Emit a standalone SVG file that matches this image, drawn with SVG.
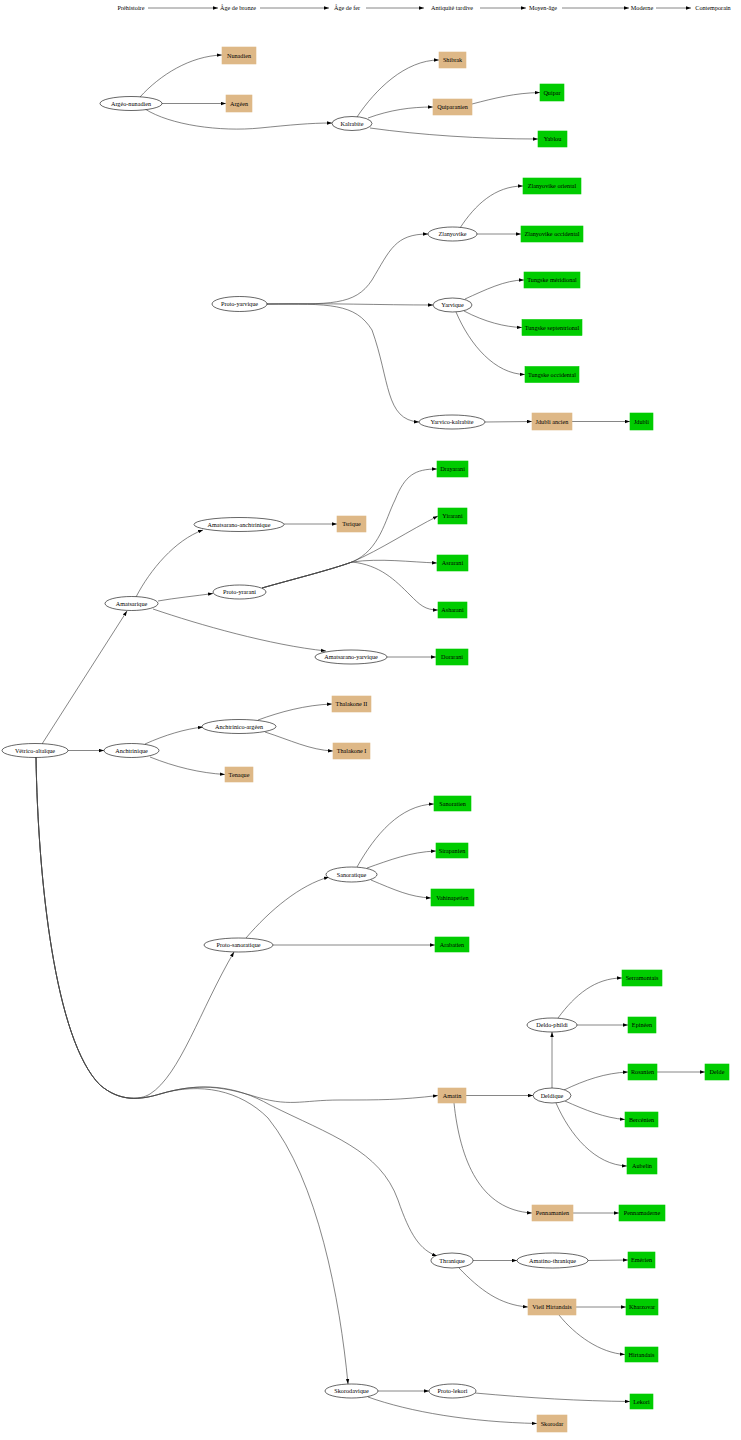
<svg xmlns="http://www.w3.org/2000/svg" width="741" height="1440" viewBox="0 0 741 1440">
<style>
text{font-family:"Liberation Serif","DejaVu Serif",serif;font-size:6.2px;text-anchor:middle;fill:#000}
.el{fill:#fff;stroke:#000;stroke-width:0.6}
.tan{fill:#deb887;stroke:#deb887;stroke-width:0.6}
.grn{fill:#00cc00;stroke:#00cc00;stroke-width:0.6}
#edges path{fill:none;stroke:#444;stroke-width:0.65;marker-end:url(#arr)}
</style>
<defs>
<marker id="arr" markerUnits="userSpaceOnUse" markerWidth="6" markerHeight="4" refX="5" refY="2" orient="auto">
<path d="M0,0.3 L5,2 L0,3.7 z" fill="#000"/>
</marker>
</defs>
<rect width="741" height="1440" fill="#fff"/>
<g id="edges">
<path d="M148,8 L218,8"/>
<path d="M260,8 L329,8"/>
<path d="M366,8 L424,8"/>
<path d="M480,8 L526,8"/>
<path d="M562,8 L629,8"/>
<path d="M656,8 L691,8"/>
<path d="M140,97 C160,75 190,56 222,55"/>
<path d="M162,103.5 L226,103.5"/>
<path d="M145,109 C170,125 220,132 260,128 C290,125 310,123 332,123"/>
<path d="M357,117 C375,90 405,60 439,60"/>
<path d="M368,118 C390,110 410,107 433,107"/>
<path d="M370,128 C420,135 480,139 538,139"/>
<path d="M472,104 C495,98 515,93 540,92.5"/>
<path d="M267,304 C330,304 355,306 372,280 C390,250 395,234 428,234"/>
<path d="M267,304 C330,303 380,305 433,305"/>
<path d="M267,304 C330,304 355,303 372,330 C390,380 385,420 419,422"/>
<path d="M460,228 C475,205 495,186 523,186"/>
<path d="M477,234 L521,234"/>
<path d="M465,299 C485,290 505,280 524,280"/>
<path d="M464,311 C485,322 505,327 522,327.5"/>
<path d="M456,312 C470,345 495,374 525,374.5"/>
<path d="M485,422 L532,421.5"/>
<path d="M572,421.5 L630,421.5"/>
<path d="M136,597 C150,570 175,540 203,530"/>
<path d="M158,601 C175,598 195,596 213,593.5"/>
<path d="M153,609 C200,625 270,645 326,651"/>
<path d="M284,524 L337,524"/>
<path d="M387,657 L436,657"/>
<path d="M262,588 C290,580 330,570 352,562 C380,550 385,520 395,500 C405,475 415,469 437,469"/>
<path d="M262,588 C290,580 330,570 352,562 C380,550 410,530 438,516"/>
<path d="M262,588 C290,580 330,570 352,562 C380,558 410,562 437,563"/>
<path d="M262,588 C290,580 330,570 352,562 C380,565 395,580 410,595 C420,605 425,610 438,610"/>
<path d="M42,744 L127,611"/>
<path d="M68,750.5 L104,750.5"/>
<path d="M145,744 C165,735 185,729 203,727"/>
<path d="M150,757 C175,767 200,773 225,774.5"/>
<path d="M258,720 C280,712 305,705 332,704"/>
<path d="M265,732 C290,740 310,750 333,751"/>
<path d="M36,757 C38,880 55,1040 100,1085 C120,1102 140,1100 150,1094 C180,1075 200,1010 234,952"/>
<path d="M36,757 C38,880 55,1040 100,1085 C120,1102 140,1100 160,1094 C200,1082 225,1088 250,1095 C290,1108 300,1100 340,1100 C380,1100 400,1100 438,1095.5"/>
<path d="M36,757 C38,880 55,1040 100,1085 C120,1102 140,1100 160,1094 C200,1082 235,1085 270,1105 C330,1135 380,1150 398,1200 C410,1235 420,1250 437,1256"/>
<path d="M36,757 C38,880 55,1040 100,1085 C120,1102 140,1100 160,1094 C200,1082 240,1090 268,1118 C318,1180 340,1300 348,1384"/>
<path d="M246,938 C270,910 300,885 329,877"/>
<path d="M273,945 L435,945"/>
<path d="M357,867 C375,835 400,805 434,804"/>
<path d="M367,868 C390,860 410,852 436,851"/>
<path d="M371,880 C395,890 410,897 431,898"/>
<path d="M466,1095.5 L533,1095.5"/>
<path d="M552,1088 L552,1032"/>
<path d="M558,1018 C575,995 595,978 622,978"/>
<path d="M577,1025 L628,1025"/>
<path d="M564,1090 C585,1080 605,1073 628,1072"/>
<path d="M657,1072 L705,1072"/>
<path d="M565,1101 C585,1110 605,1118 625,1119.5"/>
<path d="M556,1103 C570,1135 595,1165 627,1166"/>
<path d="M454,1103 C460,1160 480,1210 532,1213"/>
<path d="M573,1213 L619,1213"/>
<path d="M473,1260.5 L517,1260.5"/>
<path d="M588,1260.5 L628,1260"/>
<path d="M459,1268 C480,1290 500,1305 528,1307"/>
<path d="M576,1307 L626,1307"/>
<path d="M559,1315 C575,1335 600,1353 625,1354.5"/>
<path d="M378,1391 L429,1391"/>
<path d="M475,1393 C530,1398 580,1401 630,1401.5"/>
<path d="M368,1397 C410,1412 470,1422 537,1423.5"/>
</g>
<g id="t-prehistoire"><text x="131" y="10">Préhistoire</text></g>
<g id="t-bronze"><text x="238" y="10">Âge de bronze</text></g>
<g id="t-fer"><text x="347" y="10">Âge de fer</text></g>
<g id="t-antiquite"><text x="452" y="10">Antiquité tardive</text></g>
<g id="t-moyen"><text x="543" y="10">Moyen-âge</text></g>
<g id="t-moderne"><text x="642" y="10">Moderne</text></g>
<g id="t-contemporain"><text x="713" y="10">Contemporain</text></g>

<g id="argeo-nunadien"><ellipse class="el" cx="131" cy="103.5" rx="31" ry="7"/><text x="131" y="105.5">Argéo-nunadien</text></g>
<g id="nunadien"><rect class="tan" x="222" y="47" width="34" height="17"/><text x="239" y="57.5">Nunadien</text></g>
<g id="argeen"><rect class="tan" x="226" y="95" width="26" height="17"/><text x="239" y="105.5">Argéen</text></g>
<g id="kalrabite"><ellipse class="el" cx="352" cy="123.5" rx="20" ry="7"/><text x="352" y="125.5">Kalrabite</text></g>
<g id="shibrak"><rect class="tan" x="439" y="52" width="27" height="16"/><text x="452.5" y="62">Shibrak</text></g>
<g id="quiparanien"><rect class="tan" x="433" y="99" width="39" height="16"/><text x="452.5" y="109">Quiparanien</text></g>
<g id="quipar"><rect class="grn" x="540" y="84" width="24" height="17"/><text x="552" y="94.5">Quipar</text></g>
<g id="yablou"><rect class="grn" x="538" y="131" width="29" height="16"/><text x="552.5" y="141">Yablou</text></g>

<g id="proto-yarvique"><ellipse class="el" cx="239.5" cy="304" rx="27.5" ry="7.5"/><text x="239.5" y="306">Proto-yarvique</text></g>
<g id="zlanyovike"><ellipse class="el" cx="452.5" cy="234" rx="24.5" ry="7"/><text x="452.5" y="236">Zlanyovike</text></g>
<g id="zl-oriental"><rect class="grn" x="523" y="178" width="58" height="16"/><text x="552" y="188">Zlanyovike oriental</text></g>
<g id="zl-occidental"><rect class="grn" x="521" y="226" width="62" height="16"/><text x="552" y="236">Zlanyovike occidental</text></g>
<g id="yarvique"><ellipse class="el" cx="452.5" cy="305" rx="19.5" ry="7"/><text x="452.5" y="307">Yarvique</text></g>
<g id="tungske-meridional"><rect class="grn" x="524" y="272" width="56" height="16"/><text x="552" y="282">Tungske méridional</text></g>
<g id="tungske-septentrional"><rect class="grn" x="522" y="319.5" width="60" height="16"/><text x="552" y="329.5">Tungske septentrional</text></g>
<g id="tungske-occidental"><rect class="grn" x="525" y="366.5" width="54" height="16"/><text x="552" y="376.5">Tungske occidental</text></g>
<g id="yarvico-kalrabite"><ellipse class="el" cx="452" cy="422" rx="33" ry="7"/><text x="452" y="424">Yarvico-kalrabite</text></g>
<g id="jdubli-ancien"><rect class="tan" x="532" y="413" width="40" height="17"/><text x="552" y="423.5">Jdubli ancien</text></g>
<g id="jdubli"><rect class="grn" x="630" y="413" width="23" height="17"/><text x="641.5" y="423.5">Jdubli</text></g>

<g id="amatsarique"><ellipse class="el" cx="131.5" cy="603.5" rx="26.5" ry="7"/><text x="131.5" y="605.5">Amatsarique</text></g>
<g id="amatsarano-anchtrinique"><ellipse class="el" cx="239" cy="524.5" rx="45" ry="7"/><text x="239" y="526.5">Amatsarano-anchtrinique</text></g>
<g id="tsrique"><rect class="tan" x="337" y="516" width="29" height="16"/><text x="351.5" y="526">Tsrique</text></g>
<g id="proto-yrarani"><ellipse class="el" cx="239.5" cy="592" rx="26.5" ry="7"/><text x="239.5" y="594">Proto-yrarani</text></g>
<g id="drayarani"><rect class="grn" x="437" y="461" width="31" height="16"/><text x="452.5" y="471">Drayarani</text></g>
<g id="yirarani"><rect class="grn" x="438" y="508" width="29" height="16"/><text x="452.5" y="518">Yirarani</text></g>
<g id="asrarani"><rect class="grn" x="437" y="555" width="31" height="16"/><text x="452.5" y="565">Asrarani</text></g>
<g id="asharani"><rect class="grn" x="438" y="602" width="29" height="16"/><text x="452.5" y="612">Asharani</text></g>
<g id="amatsarano-yarvique"><ellipse class="el" cx="351" cy="657" rx="36" ry="7"/><text x="351" y="659">Amatsarano-yarvique</text></g>
<g id="dorarani"><rect class="grn" x="436" y="649" width="32" height="16"/><text x="452" y="659">Dorarani</text></g>

<g id="vetrico-altaique"><ellipse class="el" cx="35" cy="750.5" rx="33" ry="7"/><text x="35" y="752.5">Vétrico-altaïque</text></g>
<g id="anchtrinique"><ellipse class="el" cx="131.5" cy="750.5" rx="27.5" ry="7"/><text x="131.5" y="752.5">Anchtrinique</text></g>
<g id="anchtrinico-argeen"><ellipse class="el" cx="239" cy="726.5" rx="37" ry="7"/><text x="239" y="728.5">Anchtrinico-argéen</text></g>
<g id="thalakone-2"><rect class="tan" x="332" y="696" width="39" height="16"/><text x="351.5" y="706">Thalakone II</text></g>
<g id="thalakone-1"><rect class="tan" x="333" y="743" width="37" height="16"/><text x="351.5" y="753">Thalakone I</text></g>
<g id="tenaque"><rect class="tan" x="225" y="767" width="28" height="15"/><text x="239" y="776.5">Tenaque</text></g>

<g id="proto-sanoratique"><ellipse class="el" cx="238.5" cy="945" rx="34.5" ry="7"/><text x="238.5" y="947">Proto-sanoratique</text></g>
<g id="sanoratique"><ellipse class="el" cx="351.5" cy="874.5" rx="25.5" ry="7.5"/><text x="351.5" y="876.5">Sanoratique</text></g>
<g id="sanoratien"><rect class="grn" x="434" y="796" width="37" height="15"/><text x="452.5" y="805.5">Sanoratien</text></g>
<g id="sirapanien"><rect class="grn" x="436" y="843" width="32" height="15"/><text x="452" y="852.5">Sirapanien</text></g>
<g id="vahinapetien"><rect class="grn" x="431" y="889" width="43" height="17"/><text x="452.5" y="899.5">Vahinapetien</text></g>
<g id="arabatien"><rect class="grn" x="435" y="937" width="34" height="15"/><text x="452" y="946.5">Arabatien</text></g>

<g id="amatin"><rect class="tan" x="438" y="1088" width="28" height="15"/><text x="452" y="1097.5">Amatin</text></g>
<g id="deldique"><ellipse class="el" cx="552" cy="1095.5" rx="19" ry="7.5"/><text x="552" y="1097.5">Deldique</text></g>
<g id="deldo-phildi"><ellipse class="el" cx="552" cy="1025" rx="25" ry="7"/><text x="552" y="1027">Deldo-phildi</text></g>
<g id="serramontais"><rect class="grn" x="622" y="970" width="40" height="16"/><text x="642" y="980">Serramontais</text></g>
<g id="epineen"><rect class="grn" x="628" y="1017" width="28" height="16"/><text x="642" y="1027">Epinéen</text></g>
<g id="rosanien"><rect class="grn" x="628" y="1064" width="29" height="16"/><text x="642.5" y="1074">Rosanien</text></g>
<g id="delde"><rect class="grn" x="705" y="1064" width="24" height="16"/><text x="717" y="1074">Delde</text></g>
<g id="bercenien"><rect class="grn" x="625" y="1112" width="33" height="15"/><text x="641.5" y="1121.5">Bercénien</text></g>
<g id="aubelin"><rect class="grn" x="627" y="1158" width="30" height="16"/><text x="642" y="1168">Aubelin</text></g>
<g id="pennamanien"><rect class="tan" x="532" y="1205" width="41" height="16"/><text x="552.5" y="1215">Pennamanien</text></g>
<g id="pennamaderne"><rect class="grn" x="619" y="1205" width="46" height="16"/><text x="642" y="1215">Pennamaderne</text></g>

<g id="thranique"><ellipse class="el" cx="452" cy="1260.5" rx="21" ry="7.5"/><text x="452" y="1262.5">Thranique</text></g>
<g id="amatino-thranique"><ellipse class="el" cx="552.5" cy="1260.5" rx="35.5" ry="7.5"/><text x="552.5" y="1262.5">Amatino-thranique</text></g>
<g id="emerien"><rect class="grn" x="628" y="1252" width="27" height="16"/><text x="641.5" y="1262">Emérien</text></g>
<g id="vieil-hirtandais"><rect class="tan" x="528" y="1299" width="48" height="16"/><text x="552" y="1309">Vieil Hirtandais</text></g>
<g id="kharzovar"><rect class="grn" x="626" y="1299" width="32" height="16"/><text x="642" y="1309">Kharzovar</text></g>
<g id="hirtandais"><rect class="grn" x="625" y="1347" width="33" height="15"/><text x="641.5" y="1356.5">Hirtandais</text></g>

<g id="skorodavique"><ellipse class="el" cx="351.5" cy="1391" rx="26.5" ry="7"/><text x="351.5" y="1393">Skorodavique</text></g>
<g id="proto-lekori"><ellipse class="el" cx="452.5" cy="1391" rx="23.5" ry="7"/><text x="452.5" y="1393">Proto-lekori</text></g>
<g id="lekori"><rect class="grn" x="630" y="1394" width="23" height="15"/><text x="641.5" y="1403.5">Lekori</text></g>
<g id="skorodar"><rect class="tan" x="537" y="1415" width="30" height="17"/><text x="552" y="1425.5">Skorodar</text></g>
</svg>
